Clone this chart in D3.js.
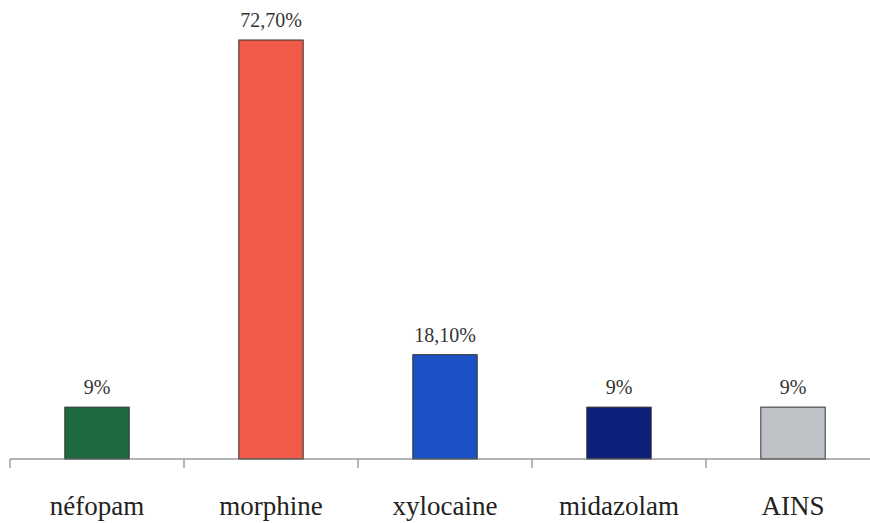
<!DOCTYPE html>
<html>
<head>
<meta charset="utf-8">
<script src="https://cdn.jsdelivr.net/npm/d3@7"></script>
<style>
  body { margin: 0; background: #fff; }
  .value_label { font-family: "Liberation Serif", "Times New Roman", serif; font-size: 20px; fill: #333; }
  .cat_label { font-family: "Liberation Serif", "Times New Roman", serif; font-size: 27px; fill: #222; }
</style>
</head>
<body>
<script>
var categories = ["néfopam", "morphine", "xylocaine", "midazolam", "AINS"];
var values = [9, 72.7, 18.1, 9, 9];
var valueLabels = ["9%", "72,70%", "18,10%", "9%", "9%"];
var colors = ["#1f6a3e", "#f15a48", "#1c52c6", "#0e1f7a", "#bfc3c8"];

var width = 870, height = 523;
var margin = {left: 10, right: -10, top: 40, bottom: 64};

var svg = d3.select("body")
            .append("svg")
            .attr("width", width)
            .attr("height", height);

//X scale (bands)
var xScale = d3.scaleBand()
               .domain(categories)
               .range([margin.left, width - margin.right])
               .paddingInner(0.63)
               .paddingOuter(0.315);

var xEdges = d3.scaleBand()
               .domain(categories)
               .range([margin.left, width - margin.right]);

//Y scale
var yScale = d3.scaleLinear()
               .domain([0, d3.max(values)])
               .range([height - margin.bottom, margin.top]);

//Bars
svg.selectAll("rect.bar")
   .data(values)
   .enter()
   .append("rect")
   .attr("class", "bar")
   .attr("x", function(d, i){ return xScale(categories[i]); })
   .attr("y", function(d){ return yScale(d); })
   .attr("width", xScale.bandwidth())
   .attr("height", function(d){ return yScale(0) - yScale(d); })
   .attr("fill", function(d, i){ return colors[i]; })
   .attr("stroke", "#333")
   .attr("stroke-width", 1);

//Value labels
svg.selectAll("text.value_label")
   .data(values)
   .enter()
   .append("text")
   .attr("class", "value_label")
   .attr("x", function(d, i){ return xScale(categories[i]) + xScale.bandwidth() / 2; })
   .attr("y", function(d){ return yScale(d) - 13; })
   .attr("text-anchor", "middle")
   .text(function(d, i){ return valueLabels[i]; });

//X axis line with ticks at band edges
var axisY = yScale(0);
svg.append("line")
   .attr("class", "axisline")
   .attr("x1", margin.left).attr("x2", width)
   .attr("y1", axisY).attr("y2", axisY)
   .attr("stroke", "#6a6a6a").attr("stroke-width", 1.2);

svg.selectAll("line.tick")
   .data(categories)
   .enter()
   .append("line")
   .attr("class", "tick")
   .attr("x1", function(d){ return xEdges(d); })
   .attr("x2", function(d){ return xEdges(d); })
   .attr("y1", axisY).attr("y2", axisY + 9)
   .attr("stroke", "#8a8a8a").attr("stroke-width", 1.2);

//Category labels
svg.selectAll("text.cat_label")
   .data(categories)
   .enter()
   .append("text")
   .attr("class", "cat_label")
   .attr("x", function(d){ return xEdges(d) + xEdges.bandwidth() / 2; })
   .attr("y", axisY + 56)
   .attr("text-anchor", "middle")
   .text(function(d){ return d; });
</script>
</body>
</html>
